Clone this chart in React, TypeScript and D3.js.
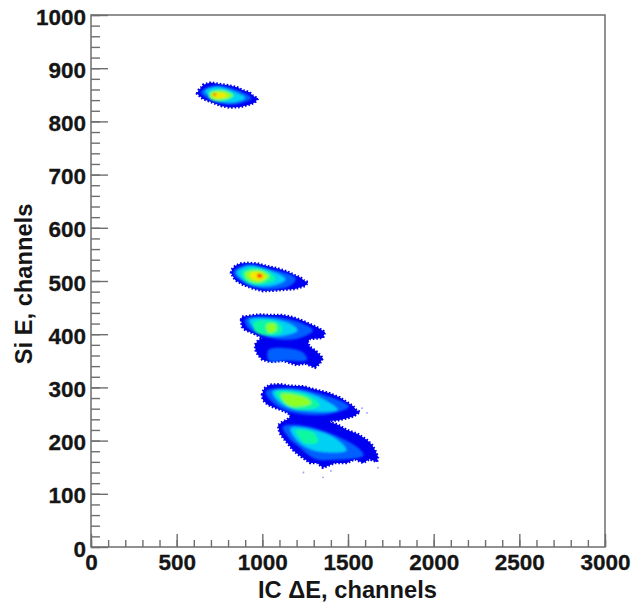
import { useEffect, useRef } from "react";
import * as d3 from "d3";

type Pt = [number, number];

const xTicks = [0, 500, 1000, 1500, 2000, 2500, 3000];
const yTicks = [0, 100, 200, 300, 400, 500, 600, 700, 800, 900, 1000];
const levelColors = ["#0000f0", "#0060ff", "#00d0f4", "#10f8a0", "#90ff20", "#f8e800", "#ff3000"];

// contours, in channels (IC dE, Si E); level = index in levelColors
const blobTop: [number, Pt[]][] = [
  [0, [[619, 852], [630, 860], [642, 863], [655, 869], [665, 870], [700, 873], [753, 870], [800, 868], [852, 864], [890, 858], [925, 855], [945, 848], [975, 843], [955, 835], [928, 832], [870, 827], [811, 826], [760, 829], [712, 835], [654, 842]]],
  [1, [[640, 855], [724, 867], [841, 860], [935, 844], [841, 832], [724, 837]]],
  [2, [[665, 857], [730, 865], [825, 857], [900, 844], [820, 835], [730, 840]]],
  [3, [[690, 855], [760, 860], [840, 849], [770, 838], [695, 842]]],
  [4, [[695, 853], [775, 857], [825, 848], [750, 840], [700, 844]]],
  [5, [[710, 852], [780, 852], [795, 847], [745, 844], [715, 846]]],
  [6, [[714, 852], [730, 852], [730, 849], [714, 849]]],
];

const blobMiddle: [number, Pt[]][] = [
  [0, [[817, 515], [825, 523], [841, 528], [870, 533], [911, 534], [970, 533], [1027, 528], [1085, 524], [1144, 518], [1190, 511], [1225, 506], [1245, 500], [1267, 498], [1250, 491], [1232, 489], [1190, 485], [1144, 484], [1075, 482], [1004, 481], [945, 486], [887, 493], [841, 502]]],
  [1, [[830, 516], [905, 531], [1030, 524], [1195, 505], [1160, 491], [1020, 484], [905, 494]]],
  [2, [[850, 516], [925, 528], [1040, 520], [1135, 503], [1030, 490], [920, 496]]],
  [3, [[880, 517], [950, 525], [1050, 514], [1075, 503], [975, 493], [900, 500]]],
  [4, [[900, 515], [975, 520], [1040, 509], [985, 497], [915, 503]]],
  [5, [[930, 514], [985, 516], [1020, 507], [975, 501], [935, 506]]],
  [6, [[972, 513], [998, 512], [998, 507], [972, 507]]],
];

const blobPair: [number, Pt[]][] = [
  [0, [[876, 427], [881, 433], [911, 434], [980, 437], [1045, 436], [1115, 436], [1179, 432], [1230, 426], [1278, 419], [1320, 413], [1366, 404], [1354, 393], [1278, 391], [1265, 385], [1278, 376], [1315, 368], [1354, 355], [1335, 345], [1307, 337], [1250, 345], [1202, 342], [1120, 350], [1045, 348], [1000, 352], [975, 361], [960, 370], [957, 380], [975, 388], [998, 393], [945, 402], [899, 408], [881, 414]]],
  [1, [[900, 428], [1045, 433], [1179, 426], [1295, 407], [1220, 393], [1103, 390], [985, 400], [915, 412]]],
  [2, [[925, 427], [1045, 429], [1165, 419], [1205, 407], [1090, 396], [985, 402]]],
  [3, [[950, 422], [1045, 426], [1115, 415], [1110, 403], [1015, 398], [960, 405]]],
  [4, [[1025, 418], [1075, 419], [1080, 407], [1035, 403]]],
  [1, [[1035, 370], [1130, 374], [1235, 366], [1260, 352], [1130, 350], [1040, 350]]],
];

const blobLow: [number, Pt[]][] = [
  [0, [[998, 286], [1010, 298], [1045, 305], [1100, 306], [1162, 303], [1240, 302], [1319, 295], [1385, 290], [1453, 281], [1495, 272], [1529, 265], [1550, 257], [1570, 254], [1535, 246], [1494, 242], [1440, 238], [1378, 237], [1440, 230], [1494, 220], [1560, 212], [1611, 201], [1640, 192], [1658, 182], [1675, 170], [1669, 160], [1625, 165], [1588, 158], [1540, 165], [1494, 158], [1425, 158], [1354, 149], [1320, 158], [1278, 158], [1225, 170], [1179, 182], [1150, 194], [1121, 205], [1100, 215], [1092, 229], [1120, 236], [1144, 239], [1165, 246], [1150, 252], [1105, 258], [1062, 263], [1030, 268], [1004, 276]]],
  [1, [[1020, 292], [1162, 299], [1337, 288], [1505, 264], [1395, 250], [1220, 250], [1095, 263]]],
  [2, [[1060, 292], [1220, 293], [1366, 276], [1440, 258], [1250, 256], [1115, 268]]],
  [3, [[1080, 291], [1250, 287], [1335, 266], [1200, 258], [1118, 272]]],
  [4, [[1110, 287], [1249, 281], [1285, 270], [1170, 264], [1125, 274]]],
  [1, [[1120, 226], [1220, 229], [1395, 214], [1560, 186], [1590, 172], [1424, 164], [1307, 166], [1215, 188], [1150, 207]]],
  [2, [[1165, 223], [1278, 222], [1424, 205], [1490, 182], [1366, 178], [1278, 184], [1200, 201]]],
  [3, [[1195, 219], [1300, 215], [1325, 197], [1250, 195], [1215, 205]]],
];

const blobs = [blobTop, blobMiddle, blobPair, blobLow];

// lone counts beside the low clusters
const strays: Pt[] = [[1611, 252], [1582, 261], [1675, 149], [1354, 131], [1240, 140], [1400, 143]];

export default function App() {
  const ref = useRef<SVGSVGElement>(null);

  useEffect(() => {
    const svg = d3.select(ref.current);
    svg.selectAll("*").remove();

    const x = d3.scaleLinear().domain([0, 3000]).range([91, 605]);
    const y = d3.scaleLinear().domain([0, 1000]).range([547, 15]);
    const outline = d3.line<Pt>().x((d) => x(d[0])).y((d) => y(d[1])).curve(d3.curveCatmullRomClosed);
    const jagged = d3.line<Pt>().x((d) => x(d[0])).y((d) => y(d[1])).curve(d3.curveLinearClosed);

    const defs = svg.append("defs");
    defs.append("filter").attr("id", "edge").append("feGaussianBlur").attr("stdDeviation", 0.7);
    defs.append("filter").attr("id", "soft").append("feGaussianBlur").attr("stdDeviation", 1.3);

    const marks = svg.append("g");
    blobs.forEach((blob) => {
      // blue base with a dashed stroke for the grainy rim
      marks.append("g").attr("filter", "url(#edge)").selectAll("path")
        .data(blob.filter((d) => d[0] === 0)).join("path")
        .attr("d", (d) => jagged(d[1]))
        .attr("fill", levelColors[0])
        .attr("stroke", levelColors[0])
        .attr("stroke-width", 2.6)
        .attr("stroke-dasharray", "1.6 1.9");
      marks.append("g").attr("filter", "url(#soft)").selectAll("path")
        .data(blob.filter((d) => d[0] > 0)).join("path")
        .attr("d", (d) => outline(d[1]))
        .attr("fill", (d) => levelColors[d[0]]);
    });
    marks.append("g").selectAll("circle").data(strays).join("circle")
      .attr("cx", (d) => x(d[0])).attr("cy", (d) => y(d[1])).attr("r", 0.9)
      .attr("fill", "#5060ff").attr("fill-opacity", 0.6);

    const gray = "#6e6e6e";
    svg.append("rect").attr("x", x(0)).attr("y", y(1000))
      .attr("width", x(3000) - x(0)).attr("height", y(0) - y(1000))
      .attr("fill", "none").attr("stroke", gray).attr("stroke-width", 1.5);

    // inward ticks, no labels on the minor ones
    const xMinor = d3.axisBottom(x).tickValues(d3.range(0, 3001, 100)).tickSize(-7).tickFormat(() => "");
    const xMajor = d3.axisBottom(x).tickValues(xTicks).tickSize(-13).tickPadding(7).tickFormat((d) => String(d));
    const yMinor = d3.axisLeft(y).tickValues(d3.range(0, 1001, 20)).tickSize(-9).tickFormat(() => "");
    const yMajor = d3.axisLeft(y).tickValues(yTicks).tickSize(-17).tickPadding(5).tickFormat((d) => String(d));

    const style = (g: any) => {
      g.select(".domain").remove();
      g.selectAll("line").attr("stroke", gray).attr("stroke-width", 1.4);
      g.selectAll("text").attr("fill", "#151515")
        .attr("stroke", "#151515").attr("stroke-width", 0.3)
        .style("font", "bold 22.5px 'Liberation Sans', Arial, sans-serif");
    };
    svg.append("g").attr("transform", `translate(0,${y(0)})`).call(xMinor).call(style);
    svg.append("g").attr("transform", `translate(0,${y(0)})`).call(xMajor).call(style);
    svg.append("g").attr("transform", `translate(${x(0)},0)`).call(yMinor).call(style);
    svg.append("g").attr("transform", `translate(${x(0)},0)`).call(yMajor).call(style)
      .selectAll("text").attr("dy", "0.4em");

    const title = "bold 23.7px 'Liberation Sans', Arial, sans-serif";
    svg.append("text").attr("x", 347.5).attr("y", 598).attr("text-anchor", "middle")
      .attr("fill", "#151515").style("font", title).text("IC ΔE, channels");
    svg.append("text").attr("transform", "translate(32,284) rotate(-90)").attr("text-anchor", "middle")
      .attr("fill", "#151515").style("font", title).text("Si E, channels");
  }, []);

  return (
    <svg ref={ref} width={633} height={603}
      style={{ position: "absolute", left: 0, top: 0, background: "#fff" }} />
  );
}
